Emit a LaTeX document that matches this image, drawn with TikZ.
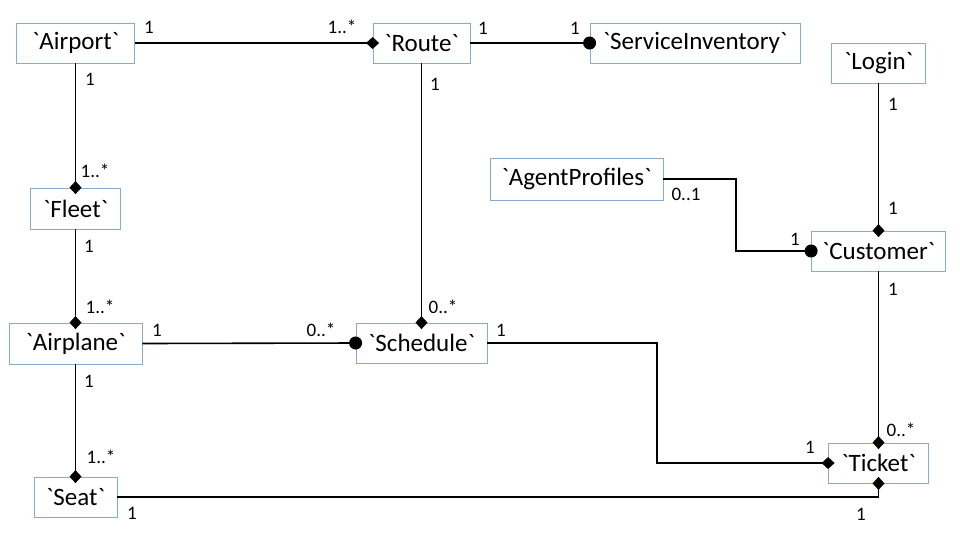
\documentclass[tikz,border=0pt]{standalone}
\usepackage{fontspec}
\newfontfamily\umlfont{Carlito}
\usetikzlibrary{%
  arrows.meta,% Diamond, Circle
  positioning%
}
\definecolor{boxblue}{RGB}{135,172,210}

\begin{document}
\begin{tikzpicture}[x=1pt,y=-1pt]
 \useasboundingbox (0,0) rectangle (960,539);
 \begin{scope}[line width=1.6pt,black,
   cls/.style={draw=boxblue,line width=0.8pt,minimum height=40pt,inner xsep=0pt,
     font=\umlfont\fontsize{25}{30}\selectfont},
   mult/.style={font=\umlfont\fontsize{19}{21}\selectfont,inner sep=0pt},
   agg/.style={-{Diamond[length=13pt,width=12pt]},shorten >=-6.5pt},
   comp/.style={-{Circle[length=13pt]},shorten >=-6.5pt}]
   %Klassen
   \node[cls,minimum width=118pt] (airport) at (75.5,43) {`Airport`};
   \node[cls,minimum width=97pt] (route) at (421.5,43) {`Route`};
   \node[cls,minimum width=210pt] (service) at (695,43) {`ServiceInventory`};
   \node[cls,minimum width=94pt] (login) at (878.5,63) {`Login`};
   \node[cls,minimum width=173pt,minimum height=42pt] (agent) at (576.5,179) {`AgentProfiles`};
   \node[cls,minimum width=134pt] (customer) at (878.5,251) {`Customer`};
   \node[cls,minimum width=90pt,minimum height=41pt] (fleet) at (75.5,208.5) {`Fleet`};
   \node[cls,minimum width=133pt,minimum height=41pt] (airplane) at (75.5,343.5) {`Airplane`};
   \node[cls,minimum width=131pt] (schedule) at (421.5,343) {`Schedule`};
   \node[cls,minimum width=83pt] (seat) at (75.5,497) {`Seat`};
   \node[cls,minimum width=100pt] (ticket) at (878.5,463) {`Ticket`};

   %Knickpunkte
   \coordinate (bend1) at (657,343);
   \coordinate (bend2) at (736,179);

   %Assoziationen
   \draw[agg] (airport.east) -- (route.west);
   \draw[comp] (route.east) -- (service.west);
   \draw[agg] (airport.south) -- (fleet.north);
   \draw[agg] (fleet.south) -- (airplane.north);
   \draw[agg] (airplane.south) -- (seat.north);
   \draw[agg] (route.south) -- (schedule.north);
   \draw[comp] (airplane.east) -- (schedule.west);
   \draw[agg] (schedule.east) -- (bend1) |- (ticket.west);
   \draw[agg] (seat.east) -| (ticket.south);
   \draw[agg] (login.south) -- (customer.north);
   \draw[comp] (agent.east) -- (bend2) |- (customer.west);
   \draw[agg] (customer.south) -- (ticket.north);

   %Multiplizitaeten
   \node[mult] (m1) at (149,27) {1};
   \node[mult] (m2) at (342,27) {1..*};
   \node[mult] (m3) at (483,28) {1};
   \node[mult] (m4) at (575,28) {1};
   \node[mult] (m5) at (90,79) {1};
   \node[mult] (m6) at (95,171) {1..*};
   \node[mult] (m7) at (89,246) {1};
   \node[mult] (m8) at (100,307) {1..*};
   \node[mult] (m9) at (89,381) {1};
   \node[mult] (m10) at (101,457) {1..*};
   \node[mult] (m11) at (132,513) {1};
   \node[mult] (m12) at (435,84) {1};
   \node[mult] (m13) at (443,307) {0..*};
   \node[mult] (m14) at (157,330) {1};
   \node[mult] (m15) at (321,330) {0..*};
   \node[mult] (m16) at (501,330) {1};
   \node[mult] (m17) at (810,447) {1};
   \node[mult] (m18) at (893,104) {1};
   \node[mult] (m19) at (893,208) {1};
   \node[mult] (m20) at (686,194) {0..1};
   \node[mult] (m21) at (795,239) {1};
   \node[mult] (m22) at (893,289) {1};
   \node[mult] (m23) at (901,430) {0..*};
   \node[mult] (m24) at (861,514) {1};
 \end{scope}
\end{tikzpicture}
\end{document}
